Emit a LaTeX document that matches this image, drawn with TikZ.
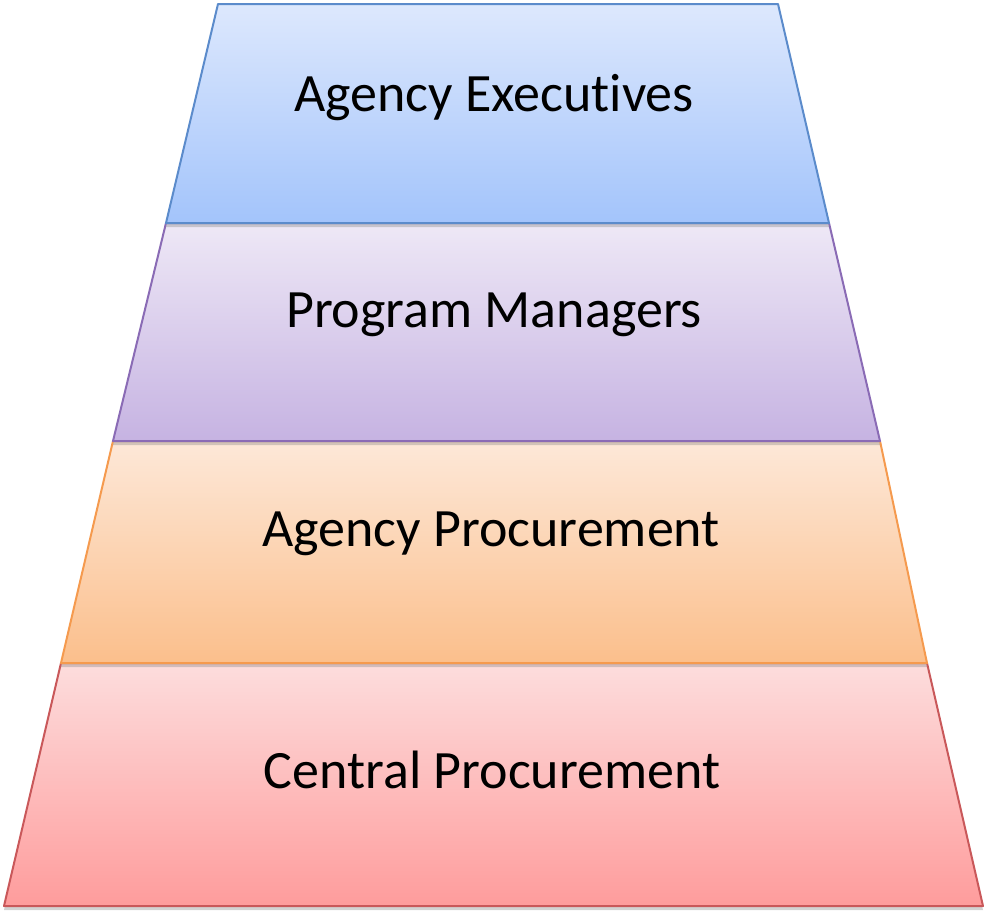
\documentclass[tikz,border=0pt]{standalone}
\usepackage{fontspec}
\setmainfont[Ligatures=NoCommon]{Carlito}
\usetikzlibrary{shadows}
\definecolor{bTop}{HTML}{DDE8FD}
\definecolor{bBot}{HTML}{A3C4FB}
\definecolor{bLine}{HTML}{5B8BCB}
\definecolor{pTop}{HTML}{EEE8F6}
\definecolor{pBot}{HTML}{C6B3E2}
\definecolor{pLine}{HTML}{8A6BB5}
\definecolor{oTop}{HTML}{FDE8D8}
\definecolor{oBot}{HTML}{FBBF8C}
\definecolor{oLine}{HTML}{F59A4E}
\definecolor{rTop}{HTML}{FDDDDD}
\definecolor{rBot}{HTML}{FE9C9C}
\definecolor{rLine}{HTML}{C9585A}
\tikzset{
  tier/.style={line width=2pt, line join=round,
    drop shadow={shadow xshift=0pt, shadow yshift=-4pt, opacity=0.35}},
  lbl/.style={font=\fontsize{54}{62}\selectfont, text=black, inner sep=0pt}
}
\begin{document}
\begin{tikzpicture}[x=1pt,y=-1pt]
\useasboundingbox (0,0) rectangle (988,913);
% bottom first so upper tiers cast shadows on lower ones
\path[tier, draw=rLine, top color=rTop, bottom color=rBot]
  (61,663) -- (927,663) -- (983,906) -- (4,906) -- cycle;
\path[tier, draw=oLine, top color=oTop, bottom color=oBot]
  (113,441) -- (880,441) -- (927,663) -- (61,663) -- cycle;
\path[tier, draw=pLine, top color=pTop, bottom color=pBot]
  (166,223) -- (829,223) -- (880,441) -- (113,441) -- cycle;
\path[tier, draw=bLine, top color=bTop, bottom color=bBot]
  (218,4) -- (778,4) -- (829,223) -- (166,223) -- cycle;
\node[lbl] (exec) at (494,98) {Agency Executives};
\node[lbl] (prog) at (494,315) {Program Managers};
\node[lbl] (aproc) at (491,534) {Agency Procurement};
\node[lbl] (cproc) at (492,770) {Central Procurement};
\end{tikzpicture}
\end{document}
